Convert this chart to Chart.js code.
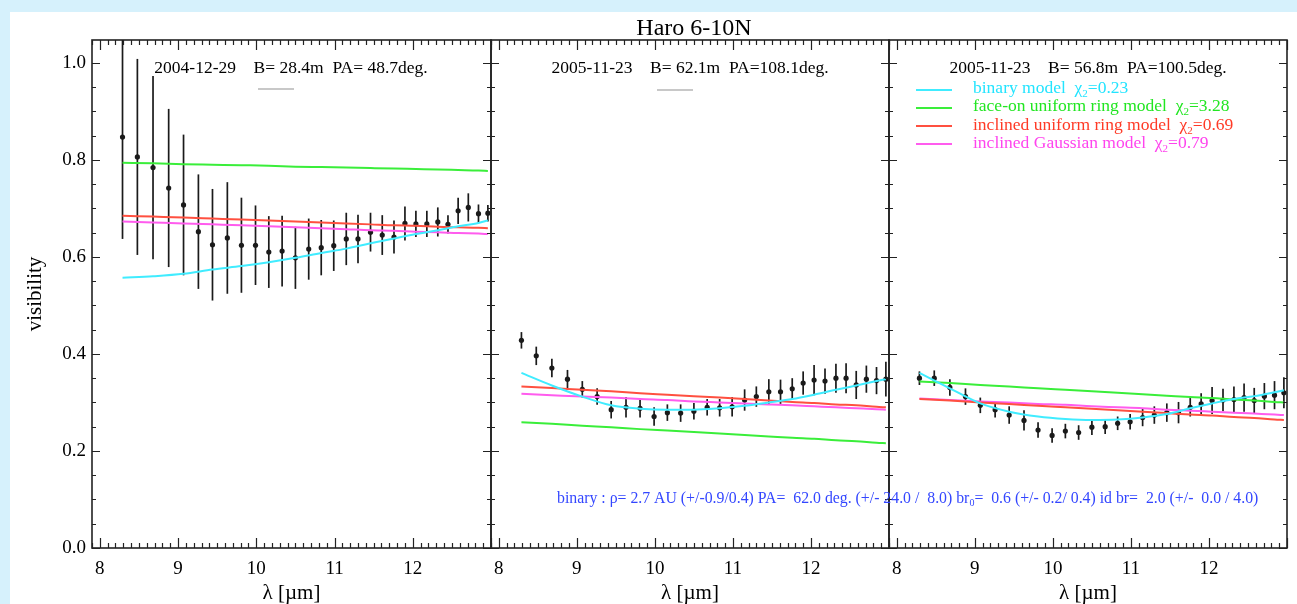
<!DOCTYPE html>
<html>
<head>
<meta charset="utf-8">
<title>Haro 6-10N</title>
<script src="https://cdn.jsdelivr.net/npm/chart.js@4.4.1/dist/chart.umd.min.js"></script>
<style>
body{margin:0;background:#fff;}
#fig{position:relative;width:1297px;height:604px;background:#fff;overflow:hidden;font-family:"Liberation Serif","Times New Roman",serif;color:#000;}
.band{position:absolute;background:#d6f1fc;}
canvas{position:absolute;left:0;top:0;}
.txt{position:absolute;white-space:pre;line-height:1;z-index:5;}
.mid{transform:translateX(-50%);}
.sub{font-size:11px;position:relative;top:4px;}
.key{position:absolute;height:2px;z-index:5;}
</style>
</head>
<body>
<div id="fig">
  <div class="band" style="left:0;top:0;width:1297px;height:12px;"></div>
  <div class="band" style="left:0;top:0;width:10px;height:604px;"></div>

  <canvas id="p1" width="1297" height="604"></canvas>
  <canvas id="p2" width="1297" height="604"></canvas>
  <canvas id="p3" width="1297" height="604"></canvas>

  <div class="txt mid" style="left:694px;top:15px;font-size:24px;">Haro 6-10N</div>

  <div class="txt mid" style="left:291px;top:59px;font-size:17.5px;">2004-12-29    B= 28.4m  PA= 48.7deg.</div>
  <div class="txt mid" style="left:690px;top:59px;font-size:17.5px;">2005-11-23    B= 62.1m  PA=108.1deg.</div>
  <div class="txt mid" style="left:1088px;top:59px;font-size:17.5px;">2005-11-23    B= 56.8m  PA=100.5deg.</div>

  <div class="key" style="left:258px;top:88px;width:36px;background:#c8c8c8;"></div>
  <div class="key" style="left:657px;top:89px;width:36px;background:#c8c8c8;"></div>

  <div class="key" style="left:916px;top:89px;width:36px;background:#40ecff;"></div>
  <div class="key" style="left:916px;top:107px;width:36px;background:#3aee3a;"></div>
  <div class="key" style="left:916px;top:125px;width:36px;background:#ff5040;"></div>
  <div class="key" style="left:916px;top:143px;width:36px;background:#ff5cee;"></div>

  <div class="txt" style="left:973px;top:79px;font-size:17.5px;color:#22e4ff;">binary model  χ<span class="sub">2</span>=0.23</div>
  <div class="txt" style="left:973px;top:97px;font-size:17.5px;color:#22e622;">face-on uniform ring model  χ<span class="sub">2</span>=3.28</div>
  <div class="txt" style="left:973px;top:116px;font-size:17.5px;color:#ff3a26;">inclined uniform ring model  χ<span class="sub">2</span>=0.69</div>
  <div class="txt" style="left:973px;top:134px;font-size:17.5px;color:#ff44ee;">inclined Gaussian model  χ<span class="sub">2</span>=0.79</div>

  <div class="txt" style="left:557px;top:490px;font-size:15.8px;color:#3346ff;">binary : ρ= 2.7 AU (+/-0.9/0.4) PA=  62.0 deg. (+/- 24.0 /  8.0) br<span class="sub" style="font-size:10px;top:3px;">0</span>=  0.6 (+/- 0.2/ 0.4) id br=  2.0 (+/-  0.0 / 4.0)</div>
</div>

<script>
// wavelength grid of the measurements (micron)
const lambda=[8.29,8.48,8.68,8.88,9.07,9.26,9.44,9.63,9.81,9.99,10.16,10.33,10.50,10.67,10.83,10.99,11.15,11.30,11.46,11.61,11.76,11.90,12.04,12.18,12.32,12.45,12.58,12.71,12.84,12.96];
// wavelengths where the model curves were read
const modelLambda=[8.29,8.68,9.07,9.44,9.81,10.16,10.50,10.83,11.15,11.46,11.76,12.04,12.32,12.58,12.84,12.96];

const xTicks=[8,9,10,11,12];
const yTicks=[0,0.2,0.4,0.6,0.8,1.0];

// 2004-12-29  B=28.4m
const vis1=[0.847,0.806,0.784,0.742,0.707,0.652,0.625,0.639,0.624,0.624,0.610,0.612,0.598,0.616,0.619,0.623,0.637,0.637,0.651,0.645,0.641,0.669,0.668,0.668,0.672,0.667,0.695,0.702,0.689,0.690];
const err1=[0.210,0.202,0.189,0.163,0.145,0.118,0.115,0.115,0.098,0.082,0.074,0.073,0.064,0.063,0.057,0.052,0.054,0.050,0.040,0.041,0.034,0.035,0.027,0.027,0.030,0.019,0.027,0.029,0.019,0.017];
const binary1=[0.557,0.560,0.565,0.574,0.581,0.589,0.598,0.608,0.617,0.628,0.638,0.647,0.655,0.663,0.670,0.675];
const faceOn1=[0.794,0.793,0.791,0.790,0.789,0.788,0.786,0.785,0.784,0.783,0.782,0.781,0.780,0.779,0.778,0.777];
const ring1=[0.685,0.683,0.681,0.679,0.677,0.675,0.673,0.671,0.669,0.667,0.665,0.664,0.662,0.661,0.660,0.659];
const gauss1=[0.673,0.671,0.669,0.667,0.665,0.663,0.661,0.659,0.657,0.655,0.654,0.652,0.651,0.649,0.648,0.647];

// 2005-11-23  B=62.1m
const vis2=[0.428,0.396,0.371,0.348,0.327,0.312,0.285,0.290,0.288,0.271,0.279,0.278,0.282,0.290,0.289,0.291,0.305,0.312,0.322,0.322,0.328,0.340,0.346,0.344,0.350,0.350,0.336,0.348,0.345,0.348];
const err2=[0.017,0.019,0.019,0.019,0.017,0.017,0.018,0.021,0.019,0.019,0.017,0.018,0.017,0.017,0.018,0.020,0.022,0.021,0.026,0.025,0.022,0.024,0.031,0.026,0.030,0.031,0.029,0.028,0.028,0.036];
const binary2=[0.361,0.335,0.312,0.294,0.287,0.285,0.285,0.288,0.293,0.300,0.307,0.316,0.326,0.335,0.344,0.348];
const faceOn2=[0.259,0.256,0.252,0.249,0.245,0.242,0.239,0.236,0.233,0.230,0.227,0.225,0.222,0.220,0.217,0.216];
const ring2=[0.333,0.330,0.326,0.323,0.319,0.316,0.313,0.310,0.307,0.304,0.301,0.299,0.296,0.294,0.291,0.290];
const gauss2=[0.318,0.315,0.312,0.310,0.307,0.305,0.302,0.300,0.298,0.296,0.294,0.292,0.290,0.288,0.286,0.285];

// 2005-11-23  B=56.8m
const vis3=[0.350,0.350,0.331,0.312,0.294,0.285,0.274,0.263,0.243,0.232,0.241,0.238,0.249,0.250,0.257,0.260,0.269,0.274,0.279,0.279,0.290,0.297,0.304,0.305,0.306,0.310,0.304,0.313,0.315,0.320];
const err3=[0.014,0.016,0.017,0.017,0.016,0.016,0.018,0.021,0.016,0.015,0.015,0.015,0.016,0.015,0.014,0.016,0.018,0.018,0.019,0.022,0.019,0.022,0.028,0.023,0.027,0.029,0.026,0.027,0.029,0.032];
const binary3=[0.361,0.329,0.298,0.281,0.271,0.266,0.264,0.265,0.269,0.276,0.288,0.298,0.307,0.313,0.321,0.325];
const faceOn3=[0.343,0.340,0.336,0.333,0.329,0.326,0.323,0.320,0.317,0.314,0.311,0.309,0.306,0.304,0.301,0.300];
const ring3=[0.307,0.304,0.300,0.297,0.293,0.290,0.287,0.284,0.281,0.278,0.275,0.273,0.270,0.268,0.265,0.264];
const gauss3=[0.308,0.305,0.302,0.300,0.297,0.295,0.292,0.290,0.288,0.285,0.283,0.281,0.279,0.277,0.275,0.274];

const modelColors=["#40ecff","#3aee3a","#ff5040","#ff5cee"];
const FONT="'Liberation Serif','Times New Roman',serif";

Chart.defaults.font.family=FONT;
Chart.defaults.color="#000";

// error bars under the points
const errorBars={
    id:"errorBars",
    beforeDatasetsDraw(chart){
        const {ctx,chartArea:a,scales:{x,y}}=chart;
        ctx.save();
        ctx.beginPath();
        ctx.rect(a.left,a.top,a.width,a.height);
        ctx.clip();
        ctx.strokeStyle="#1a1a1a";
        ctx.lineWidth=1.7;
        chart.data.datasets.forEach(ds=>{
            if(!ds.errors) return;
            ds.data.forEach((p,i)=>{
                const px=x.getPixelForValue(p.x);
                ctx.beginPath();
                ctx.moveTo(px,y.getPixelForValue(p.y-ds.errors[i]));
                ctx.lineTo(px,y.getPixelForValue(p.y+ds.errors[i]));
                ctx.stroke();
            });
        });
        ctx.restore();
    }
};

// box + inward ticks on all four sides (IDL style)
const frame={
    id:"frame",
    afterDraw(chart){
        const {ctx,chartArea:a,scales:{x,y}}=chart;
        ctx.save();
        ctx.strokeStyle="#222";
        ctx.lineWidth=1.6;
        ctx.strokeRect(a.left,a.top,a.width,a.height);
        ctx.lineWidth=1.2;
        ctx.beginPath();
        for(let k=79;k<=130;k++){
            const px=Math.round(x.getPixelForValue(k/10))+0.5;
            const len=k%10===0?10:5;
            ctx.moveTo(px,a.bottom); ctx.lineTo(px,a.bottom-len);
            ctx.moveTo(px,a.top); ctx.lineTo(px,a.top+len);
        }
        for(let k=0;k<=20;k++){
            const py=Math.round(y.getPixelForValue(k*0.05))+0.5;
            const len=k%4===0?8:4;
            ctx.moveTo(a.left,py); ctx.lineTo(a.left+len,py);
            ctx.moveTo(a.right,py); ctx.lineTo(a.right-len,py);
        }
        ctx.stroke();
        ctx.restore();
    }
};

function toPoints(xs,ys){
    return xs.map((v,i)=>({x:v,y:ys[i]}));
}

function makePanel(id,left,right,vis,err,models,showY){
    const datasets=models.map((m,i)=>({
        data:toPoints(modelLambda,m),
        borderColor:modelColors[i],
        borderWidth:2,
        pointRadius:0,
        cubicInterpolationMode:"monotone",
        fill:false
    }));
    datasets.push({
        data:toPoints(lambda,vis),
        errors:err,
        showLine:false,
        pointRadius:2.6,
        pointStyle:"circle",
        pointBackgroundColor:"#1a1a1a",
        pointBorderWidth:0
    });

    return new Chart(document.getElementById(id),{
        type:"line",
        data:{datasets},
        options:{
            responsive:false,
            animation:false,
            devicePixelRatio:1,
            layout:{padding:{left:showY?0:left,right:1297-right,top:40,bottom:0}},
            plugins:{legend:{display:false},tooltip:{enabled:false}},
            scales:{
                x:{
                    type:"linear",min:7.9,max:13,
                    grid:{display:false,drawTicks:false},
                    border:{display:false},
                    ticks:{padding:10,font:{size:19},maxRotation:0,autoSkip:false,callback:v=>String(v)},
                    afterBuildTicks:s=>{s.ticks=xTicks.map(v=>({value:v}));},
                    afterFit:s=>{s.height=56;},
                    title:{display:true,text:"λ [µm]",font:{size:21,lineHeight:1},padding:{top:0,bottom:0}}
                },
                y:{
                    type:"linear",min:0,max:1.047,
                    grid:{display:false,drawTicks:false},
                    border:{display:false},
                    ticks:{display:showY,padding:6,font:{size:19},callback:v=>v.toFixed(1)},
                    afterBuildTicks:s=>{s.ticks=yTicks.map(v=>({value:v}));},
                    afterFit:s=>{s.width=showY?left:0;},
                    title:{display:showY,text:"visibility",font:{size:21,lineHeight:1},padding:{top:25,bottom:0}}
                }
            }
        },
        plugins:[errorBars,frame]
    });
}

makePanel("p1",92,491,vis1,err1,[binary1,faceOn1,ring1,gauss1],true);
makePanel("p2",491,889,vis2,err2,[binary2,faceOn2,ring2,gauss2],false);
makePanel("p3",889,1287,vis3,err3,[binary3,faceOn3,ring3,gauss3],false);
</script>
</body>
</html>
